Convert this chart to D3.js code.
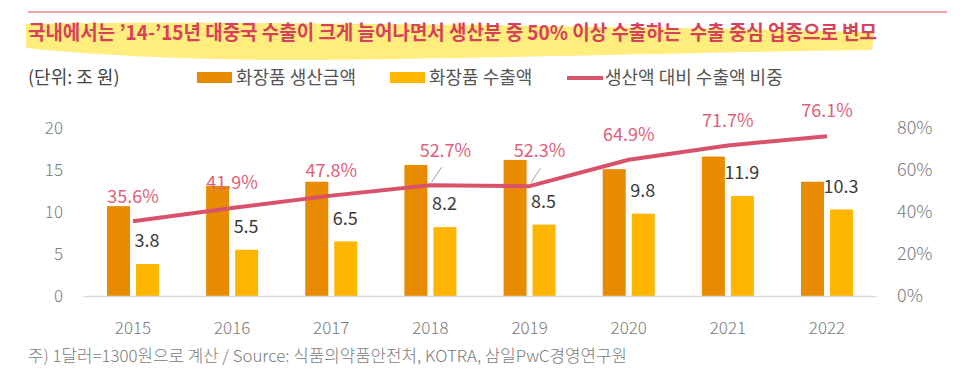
<!DOCTYPE html>
<html><head><meta charset="utf-8">
<script src="https://cdn.jsdelivr.net/npm/d3@7"></script>
<style>
body{margin:0;background:#fff;}
svg{display:block;font-family:"Noto Sans CJK KR","Noto Sans",sans-serif;}
</style></head>
<body><svg id="c" width="960" height="383"></svg>
<script>
const years = ["2015","2016","2017","2018","2019","2020","2021","2022"];
const production = [10.7, 13.1, 13.6, 15.6, 16.2, 15.1, 16.6, 13.6];
const exportsVal = [3.8, 5.5, 6.5, 8.2, 8.5, 9.8, 11.9, 10.3];
const shareVal = [35.6, 41.9, 47.8, 52.7, 52.3, 64.9, 71.7, 76.1];
const leftTicks = [0, 5, 10, 15, 20];
const rightTicks = [0, 20, 40, 60, 80];
const calloutYears = ["2018", "2019"];
const title = "국내에서는 ’14-’15년 대중국 수출이 크게 늘어나면서 생산분 중 50% 이상 수출하는  수출 중심 업종으로 변모";
const unitLabel = "(단위: 조 원)";
const legendNames = ["화장품 생산금액", "화장품 수출액", "생산액 대비 수출액 비중"];
const footnote = "주) 1달러=1300원으로 계산 / Source: 식품의약품안전처, KOTRA, 삼일PwC경영연구원";

const C = {orange:"#E98B00", yellow:"#FFB600", line:"#D9526B", pct:"#E0607A", axis:"#7a7a7a", val:"#3a3a3a"};
const svg = d3.select("#c");

// header
svg.append("line").attr("x1",28).attr("x2",947).attr("y1",12).attr("y2",12)
  .attr("stroke","#E58595").attr("stroke-width",1.5);
svg.append("path")
  .attr("d","M26,24 C200,20 600,26 874,32 L872,50 C700,52 520,58 300,60 C180,60 80,54 26,48 Z")
  .attr("fill","#FFEB70").attr("opacity",0.9);
svg.append("text").attr("x",28).attr("y",40).attr("font-size",20).attr("font-weight",700)
  .attr("fill","#D8415B").attr("textLength",849).attr("lengthAdjust","spacingAndGlyphs")
  .style("white-space","pre").text(title);

// legend
svg.append("text").attr("x",28).attr("y",84).attr("font-size",18).attr("fill","#444").text(unitLabel);
const lg = [{x:197,type:"rect",c:C.orange},{x:390,type:"rect",c:C.yellow},{x:567,type:"line",c:C.line}];
lg.forEach((d,i)=>{
  if(d.type==="rect") svg.append("rect").attr("x",d.x).attr("y",72).attr("width",35).attr("height",11).attr("fill",d.c);
  else svg.append("line").attr("x1",d.x).attr("x2",d.x+36).attr("y1",78).attr("y2",78).attr("stroke",d.c).attr("stroke-width",4);
  svg.append("text").attr("x",d.x+(d.type==="rect"?39:38)).attr("y",84).attr("font-size",18).attr("fill","#555").text(legendNames[i]);
});

// scales
const x = d3.scaleBand().domain(years).range([83.4, 876.6]).padding(0);
const yL = d3.scaleLinear().domain([0,20]).range([296,128]);
const yR = d3.scaleLinear().domain([0,80]).range([296,128]);
const cx = d => x(d) + x.bandwidth()/2;

// axes (text only)
const gl = svg.append("g").attr("transform","translate(63,0)")
  .call(d3.axisLeft(yL).tickValues(leftTicks).tickSize(0).tickPadding(0));
const gr = svg.append("g").attr("transform","translate(897,0)")
  .call(d3.axisRight(yR).tickValues(rightTicks).tickSize(0).tickPadding(0).tickFormat(d=>d+"%"));
const gx = svg.append("g").attr("transform","translate(0,318)")
  .call(d3.axisBottom(x).tickSize(0).tickPadding(0));
[gl,gr,gx].forEach(g=>{g.select(".domain").remove();
  g.selectAll("text").attr("font-size",17).attr("fill",C.axis).attr("font-weight",300)
    .attr("font-family","'Noto Sans CJK KR','Noto Sans',sans-serif");});
gr.selectAll("text").attr("font-size",18);
gx.selectAll("text").attr("dy","0.95em");

// bars
svg.append("g").selectAll("rect").data(years).join("rect")
  .attr("x",(d)=>cx(d)-26).attr("width",23)
  .attr("y",(d,i)=>yL(production[i])).attr("height",(d,i)=>yL(0)-yL(production[i]))
  .attr("fill",C.orange);
svg.append("g").selectAll("rect").data(years).join("rect")
  .attr("x",(d)=>cx(d)+3).attr("width",23)
  .attr("y",(d,i)=>yL(exportsVal[i])).attr("height",(d,i)=>yL(0)-yL(exportsVal[i]))
  .attr("fill",C.yellow);

// baseline
svg.append("line").attr("x1",x.range()[0]).attr("x2",x.range()[1]).attr("y1",yL(0)+0.5).attr("y2",yL(0)+0.5)
  .attr("stroke","#d9d9d9").attr("stroke-width",1.5);

// export value labels
svg.append("g").selectAll("text").data(years).join("text")
  .attr("x",d=>cx(d)+14).attr("y",(d,i)=>yL(exportsVal[i])-23)
  .attr("dy","0.35em").attr("text-anchor","middle").attr("font-size",18).attr("fill",C.val)
  .text((d,i)=>exportsVal[i].toFixed(1));

// share line
const line = d3.line().x((d,i)=>cx(years[i])).y(d=>yR(d));
svg.append("path").datum(shareVal).attr("d",line).attr("fill","none")
  .attr("stroke",C.line).attr("stroke-width",4).attr("stroke-linejoin","round");

// callout leaders
years.forEach((d,i)=>{
  if(calloutYears.includes(d)){
    svg.append("line").attr("x1",cx(d)+1).attr("y1",yR(shareVal[i])-3)
      .attr("x2",cx(d)+11).attr("y2",yR(shareVal[i])-18)
      .attr("stroke","#a0a0a0").attr("stroke-width",1);
  }
});
// share labels
svg.append("g").selectAll("text").data(years).join("text")
  .attr("x",d=>cx(d)+(calloutYears.includes(d)?(d==="2018"?15:10):0))
  .attr("y",(d,i)=>yR(shareVal[i])-(calloutYears.includes(d)?35:25))
  .attr("dy","0.35em").attr("text-anchor","middle").attr("font-size",18).attr("fill",C.pct)
  .text((d,i)=>shareVal[i].toFixed(1)+"%");

// footnote
svg.append("text").attr("x",28).attr("y",362).attr("font-size",16.5).attr("font-weight",300)
  .attr("fill","#7a7a7a").attr("textLength",599).attr("lengthAdjust","spacingAndGlyphs").text(footnote);
</script></body></html>
